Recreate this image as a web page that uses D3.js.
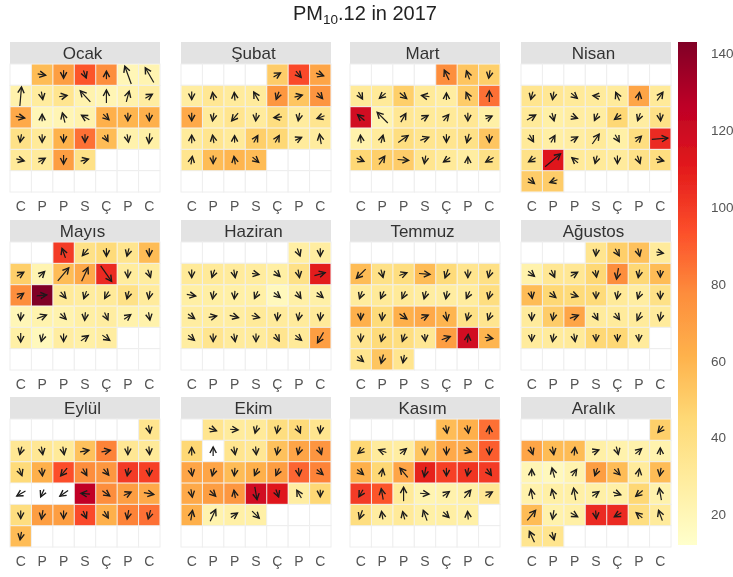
<!DOCTYPE html>
<html><head><meta charset="utf-8">
<script src="https://cdn.jsdelivr.net/npm/d3@7"></script>
<style>html,body{margin:0;padding:0;background:#fff}svg{display:block}text{font-family:"Liberation Sans",Arial,sans-serif}</style>
</head><body><svg id="c" width="733" height="577"></svg>
<script>
const year = 2017;
const months = ["Ocak","Şubat","Mart","Nisan","Mayıs","Haziran","Temmuz","Ağustos","Eylül","Ekim","Kasım","Aralık"];
const dayLabels = ["C","P","P","S","Ç","P","C"];
const legendTicks = [20,40,60,80,100,120,140];
const pmRange = [12,143];
// daily PM10 per month (null = no measurement, white tile)
const pmOcak=[57,70,92,77,20,22,24,29,35,23,21,24,28,65,20,21,24,62,60,62,38,31,61,85,57,24,26,31,30,70,38];
const pmSubat=[50,95,67,28,33,30,30,73,53,74,65,30,35,30,41,29,35,30,35,31,49,45,30,29,35,57,60,57];
const pmMart=[77,53,49,31,31,49,31,28,50,85,118,23,33,31,31,33,26,24,30,41,35,35,38,53,45,49,50,35,31,28,38];
const pmNisan=[35,33,31,30,30,67,31,31,26,28,28,45,28,38,31,27,28,31,26,41,105,38,112,31,31,30,38,41,50,50];
const pmMayis=[100,38,43,35,57,49,22,57,65,105,29,29,77,143,31,29,31,38,30,20,23,23,27,28,24,24,26,18,28,26,28];
const pmHaziran=[27,28,31,31,30,29,27,38,110,27,27,26,26,18,26,26,28,28,28,31,30,30,31,28,35,30,30,35,31,70];
const pmTemmuz=[57,38,41,57,43,35,39,29,31,31,28,28,29,41,62,43,62,65,60,38,35,35,43,41,33,70,118,60,35,53,35];
const pmAgustos=[35,49,55,30,24,33,33,45,77,45,57,57,45,43,43,31,28,38,30,50,67,30,30,30,30,30,30,31,45,45,30];
const pmEylul=[35,33,33,31,55,80,33,31,43,62,94,77,73,100,98,null,null,null,125,77,70,65,41,70,70,95,62,80,85,57];
const pmEkim=[35,30,31,41,43,35,45,null,35,33,55,67,74,67,67,57,62,70,88,80,65,70,73,118,112,28,45,62,23,26,26];
const pmKasim=[57,62,85,45,30,28,53,65,65,90,62,45,67,108,98,102,100,100,92,31,22,24,26,33,41,28,31,26,27,26];
const pmAralik=[49,67,57,57,26,24,24,23,21,18,23,70,57,30,57,24,26,26,26,26,45,24,57,24,26,105,105,41,30,35,35];
// arrow bearing per day (degrees, 0 = up, clockwise)
const dirOcak=[100,180,160,0,-20,-30,5,170,80,-42,0,15,60,100,0,-15,-60,135,180,180,190,180,180,180,150,170,185,105,60,180,75];
const dirSubat=[60,140,110,180,-10,-5,-30,200,75,140,180,190,220,185,265,190,250,0,-10,0,30,30,65,-10,10,180,-10,130];
const dirMart=[-25,-20,190,150,230,130,280,0,-25,0,-50,-45,30,60,40,180,65,-5,15,55,70,180,195,180,115,35,95,190,235,0,240];
const dirNisan=[195,190,130,275,-25,10,35,60,165,110,205,235,200,175,150,30,60,35,150,45,85,240,50,-50,195,180,160,105,130,250];
const dirMayis=[-20,220,180,195,180,60,45,40,25,145,180,160,55,85,140,200,210,195,190,185,70,135,185,155,55,170,180,195,180,55,125];
const dirHaziran=[160,180,180,200,170,100,135,170,75,100,190,185,205,130,145,130,125,80,105,105,185,190,185,130,180,170,180,150,130,210];
const dirTemmuz=[225,165,70,95,200,180,195,200,205,205,195,190,205,195,180,185,125,65,170,195,200,180,195,200,175,70,5,100,130,195,190];
const dirAgustos=[185,150,165,100,130,155,60,170,190,190,180,170,130,110,180,190,200,180,180,190,70,150,145,205,190,180,190,170,180,180,180];
const dirEylul=[170,195,170,170,80,80,180,175,160,175,220,150,140,190,180,240,205,235,275,125,65,100,180,190,180,155,150,190,195,190];
const dirEkim=[110,95,195,190,155,185,0,0,170,175,190,195,160,170,195,185,205,205,175,130,170,135,-10,170,160,-30,180,10,25,55,135];
const dirKasim=[170,170,0,230,-70,50,180,180,105,180,130,10,-40,190,180,190,145,210,-10,0,95,55,40,60,200,-10,-15,-20,135,-5];
const dirAralik=[220,160,170,5,70,165,50,0,0,-15,35,200,135,10,190,-10,-15,-10,55,110,230,-10,40,190,120,175,240,-50,-20,-25,165];
// arrow length per day (wind speed, px-like units)
const lenOcak=[9,9,9,9,20,18,20,9,9,16,14,12,9,10,8,11,10,9,9,9,9,9,9,9,8,9,11,9,9,10,9];
const lenSubat=[9,9,9,9,9,9,11,9,9,9,9,9,11,9,9,9,9,9,9,8,9,9,8,11,9,9,9,9];
const lenMart=[12,10,9,9,9,10,9,8,10,12,10,16,11,9,9,9,8,9,9,13,10,9,10,9,9,11,12,9,9,8,10];
const lenNisan=[9,9,9,8,10,9,11,11,9,8,9,9,9,9,9,9,9,13,9,9,17,9,21,9,9,9,9,9,9,9];
const lenMayis=[11,10,9,9,9,9,9,18,16,20,9,9,9,11,9,9,9,9,9,9,11,9,9,9,9,9,10,9,9,10,10];
const lenHaziran=[9,9,9,9,9,8,9,9,12,10,9,9,9,9,9,9,9,9,10,9,9,9,9,9,9,9,9,9,9,13];
const lenTemmuz=[14,9,9,12,10,9,9,9,9,9,9,9,9,9,8,9,10,9,10,9,9,9,9,9,8,10,9,9,9,10,9];
const lenAgustos=[8,9,9,8,9,9,9,8,12,9,8,8,9,9,8,9,9,9,9,9,10,9,9,10,10,8,9,9,8,8,8];
const lenEylul=[9,9,9,9,10,10,9,9,9,9,11,9,9,9,9,11,9,11,10,10,9,11,9,10,9,9,9,10,10,9];
const lenEkim=[9,9,9,9,9,9,9,10,9,9,9,9,9,9,9,9,9,9,9,9,9,9,9,14,9,10,8,11,14,9,11];
const lenKasim=[9,9,9,9,9,9,9,9,9,9,9,9,13,11,9,9,9,9,12,15,10,9,11,9,10,9,9,12,9,9];
const lenAralik=[9,9,9,9,8,9,9,8,8,11,9,9,9,9,9,11,11,13,9,9,10,13,14,10,9,9,9,9,12,13,9];

const pmAll=[pmOcak,pmSubat,pmMart,pmNisan,pmMayis,pmHaziran,pmTemmuz,pmAgustos,pmEylul,pmEkim,pmKasim,pmAralik];
const dirAll=[dirOcak,dirSubat,dirMart,dirNisan,dirMayis,dirHaziran,dirTemmuz,dirAgustos,dirEylul,dirEkim,dirKasim,dirAralik];
const lenAll=[lenOcak,lenSubat,lenMart,lenNisan,lenMayis,lenHaziran,lenTemmuz,lenAgustos,lenEylul,lenEkim,lenKasim,lenAralik];

const svg=d3.select("#c");
const defs=svg.append("defs");
defs.append("filter").attr("id","soft").attr("x","-5%").attr("y","-5%").attr("width","110%").attr("height","110%")
  .append("feGaussianBlur").attr("stdDeviation",0.5);

const colorRange=d3.schemeYlOrRd[9];
const legendY=d3.scaleLinear().domain(pmRange).range([545,42]);
const color=d3.scaleLinear()
  .domain(d3.range(9).map(i=>pmRange[0]+(pmRange[1]-pmRange[0])*i/8))
  .range(colorRange);

const panelX=[10,181,350,521], panelW=150;
const panelY=[64,242,419], panelH=128, stripH=22;
const cols=d3.range(7), rows=d3.range(6);

const root=svg.append("g").attr("filter","url(#soft)");

months.forEach((m,mi)=>{
  const px=panelX[mi%4], py=panelY[Math.floor(mi/4)];
  const x=d3.scaleBand().domain(cols).range([px,px+panelW]);
  const y=d3.scaleBand().domain(rows).range([py,py+panelH]);
  const g=root.append("g");
  g.append("rect").attr("x",px).attr("y",py-stripH).attr("width",panelW).attr("height",stripH).attr("fill","#e3e3e3");
  g.append("text").attr("x",px+panelW/2-2.5).attr("y",py-5.5).attr("text-anchor","middle")
    .attr("font-size",17).attr("fill","#333").text(m);
  // empty calendar grid
  g.selectAll("rect.bg").data(d3.cross(cols,rows)).join("rect").attr("class","bg")
    .attr("x",d=>x(d[0])).attr("y",d=>y(d[1])).attr("width",x.bandwidth()).attr("height",y.bandwidth())
    .attr("fill","#fff").attr("stroke","#eeeeee").attr("stroke-width",1);
  // days
  const first=new Date(year,mi,1);
  const off=(first.getDay()+1)%7;
  const start=off===0?7:off;
  const days=pmAll[mi].map((v,i)=>({v,dir:dirAll[mi][i],len:lenAll[mi][i],c:(start+i)%7,r:Math.floor((start+i)/7)}));
  g.selectAll("rect.day").data(days).join("rect").attr("class","day")
    .attr("x",d=>x(d.c)+0.5).attr("y",d=>y(d.r)+0.5).attr("width",x.bandwidth()-1).attr("height",y.bandwidth()-1)
    .attr("fill",d=>d.v===null?"#fff":color(d.v));
  const arrows=g.selectAll("g.ar").data(days).join("g").attr("class","ar")
    .attr("transform",d=>`translate(${x(d.c)+x.bandwidth()/2},${y(d.r)+y.bandwidth()/2}) rotate(${d.dir})`);
  arrows.append("line").attr("x1",0).attr("x2",0).attr("y1",d=>d.len/2).attr("y2",d=>-d.len/2+1)
    .attr("stroke","#1a1a1a").attr("stroke-width",1.2);
  arrows.append("path").attr("fill","none").attr("stroke","#1a1a1a").attr("stroke-width",1.4)
    .attr("d",d=>{const t=-d.len/2+1;return `M-3.2,${t+6}L0,${t}L3.2,${t+6}`;});
  // day-of-week axis
  const ax=root.append("g").attr("transform",`translate(0,${py+panelH+6.5})`)
    .call(d3.axisBottom(x).tickSize(0).tickPadding(3).tickFormat(i=>dayLabels[i]));
  ax.select(".domain").remove();
  ax.selectAll("text").attr("font-size",14).attr("fill","#555").style("font-family",'"Liberation Sans",Arial,sans-serif');
});

// colour bar
const grad=defs.append("linearGradient").attr("id","bar").attr("x1",0).attr("x2",0).attr("y1",1).attr("y2",0);
grad.selectAll("stop").data(color.domain()).join("stop")
  .attr("offset",d=>(d-pmRange[0])/(pmRange[1]-pmRange[0])).attr("stop-color",d=>color(d));
root.append("rect").attr("x",678).attr("y",42).attr("width",19).attr("height",503).attr("fill","url(#bar)");
const la=root.append("g").attr("transform","translate(697,0)")
  .call(d3.axisRight(legendY).tickValues(legendTicks).tickSize(0).tickPadding(14));
la.select(".domain").remove();
la.selectAll("text").attr("font-size",13.5).attr("fill","#555").style("font-family",'"Liberation Sans",Arial,sans-serif');

// title
const title=root.append("text").attr("x",365).attr("y",20).attr("text-anchor","middle").attr("font-size",20).attr("fill","#222");
title.append("tspan").text("PM");
title.append("tspan").attr("font-size",13.5).attr("dy",4).text("10");
title.append("tspan").attr("dy",-4).text(".12 in 2017");
</script></body></html>
